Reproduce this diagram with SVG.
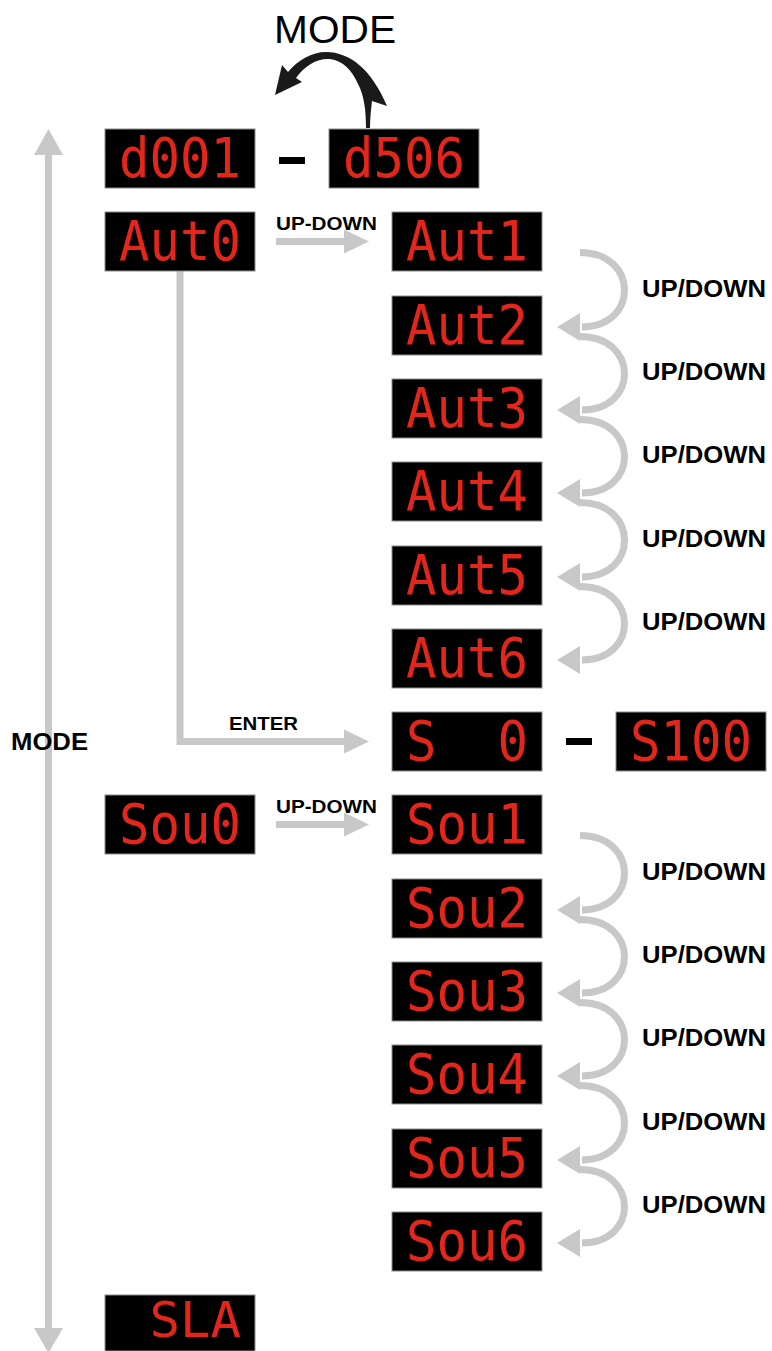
<svg xmlns="http://www.w3.org/2000/svg" width="772" height="1351" viewBox="0 0 772 1351">
<style>
.box{fill:#000;stroke:#8c8c8c;stroke-width:1}
.seg{font-family:"DejaVu Sans Mono","Liberation Mono",monospace;font-size:55px;fill:#e3261b}
.lbl{font-family:"Liberation Sans",Arial,sans-serif;font-weight:bold;fill:#000}
.gl{fill:none;stroke:#c8c8c8;stroke-width:7}
.gh{fill:#c8c8c8}
</style>
<rect width="772" height="1351" fill="#fff"/>

<g id="connectors">
  <!-- MODE vertical double arrow -->
  <line class="gl" x1="48.5" y1="152" x2="48.5" y2="1330"/>
  <polygon class="gh" points="48.5,129 34,155 63,155"/>
  <polygon class="gh" points="48.5,1353 34,1328 63,1328"/>
  <!-- UP-DOWN Aut -->
  <line class="gl" x1="276" y1="241.5" x2="346" y2="241.5"/>
  <polygon class="gh" points="369,241.5 344,229.5 344,253.5"/>
  <!-- UP-DOWN Sou -->
  <line class="gl" x1="276" y1="824.5" x2="346" y2="824.5"/>
  <polygon class="gh" points="369,824.5 344,812.5 344,836.5"/>
  <!-- ENTER -->
  <path class="gl" d="M180,271 V741.5 H346"/>
  <polygon class="gh" points="369,741.5 344,729.5 344,753.5"/>
  <!-- UP/DOWN arcs Aut -->
  <path class="gl" d="M580,252.5 C639,252.5 639,327 582,327"/>
  <polygon class="gh" points="557,327 580,313 580,341"/>
  <path class="gl" d="M580,336.5 C639,336.5 639,410 582,410"/>
  <polygon class="gh" points="557,410 580,396 580,424"/>
  <path class="gl" d="M580,419.5 C639,419.5 639,493 582,493"/>
  <polygon class="gh" points="557,493 580,479 580,507"/>
  <path class="gl" d="M580,502.5 C639,502.5 639,577 582,577"/>
  <polygon class="gh" points="557,577 580,563 580,591"/>
  <path class="gl" d="M580,586.5 C639,586.5 639,660 582,660"/>
  <polygon class="gh" points="557,660 580,646 580,674"/>
  <!-- UP/DOWN arcs Sou -->
  <path class="gl" d="M580,835.5 C639,835.5 639,910 582,910"/>
  <polygon class="gh" points="557,910 580,896 580,924"/>
  <path class="gl" d="M580,919.5 C639,919.5 639,993 582,993"/>
  <polygon class="gh" points="557,993 580,979 580,1007"/>
  <path class="gl" d="M580,1002.5 C639,1002.5 639,1076 582,1076"/>
  <polygon class="gh" points="557,1076 580,1062 580,1090"/>
  <path class="gl" d="M580,1085.5 C639,1085.5 639,1160 582,1160"/>
  <polygon class="gh" points="557,1160 580,1146 580,1174"/>
  <path class="gl" d="M580,1169.5 C639,1169.5 639,1243 582,1243"/>
  <polygon class="gh" points="557,1243 580,1229 580,1257"/>
  <!-- black MODE curved arrow -->
  <path fill="#1a1a1a" d="M366,128 C366,110 364,95 358,84 C352,70 343,61 330,59 C318,58 305,65 296,78 L302,82 L275,95 L282,65 L288,72 C298,60 312,52 326,52 C350,52 372,70 387,106 L372,101 C371,110 370,118 370,128 Z"/>
  <!-- dashes -->
  <rect x="279" y="157" width="26" height="7" fill="#000"/>
  <rect x="566" y="738" width="26" height="7" fill="#000"/>
</g>

<g id="labels">
  <text class="lbl" x="274" y="43" font-size="39" style="font-weight:normal" textLength="122" lengthAdjust="spacingAndGlyphs">MODE</text>
  <text class="lbl" x="11" y="750" font-size="23" textLength="77" lengthAdjust="spacingAndGlyphs">MODE</text>
  <text class="lbl" x="276" y="230" font-size="18" textLength="101" lengthAdjust="spacingAndGlyphs">UP-DOWN</text>
  <text class="lbl" x="276" y="813" font-size="18" textLength="101" lengthAdjust="spacingAndGlyphs">UP-DOWN</text>
  <text class="lbl" x="229" y="730" font-size="18" textLength="69" lengthAdjust="spacingAndGlyphs">ENTER</text>
  <text class="lbl" x="642" y="297" font-size="23" textLength="124" lengthAdjust="spacingAndGlyphs">UP/DOWN</text>
  <text class="lbl" x="642" y="380" font-size="23" textLength="124" lengthAdjust="spacingAndGlyphs">UP/DOWN</text>
  <text class="lbl" x="642" y="463" font-size="23" textLength="124" lengthAdjust="spacingAndGlyphs">UP/DOWN</text>
  <text class="lbl" x="642" y="547" font-size="23" textLength="124" lengthAdjust="spacingAndGlyphs">UP/DOWN</text>
  <text class="lbl" x="642" y="630" font-size="23" textLength="124" lengthAdjust="spacingAndGlyphs">UP/DOWN</text>
  <text class="lbl" x="642" y="880" font-size="23" textLength="124" lengthAdjust="spacingAndGlyphs">UP/DOWN</text>
  <text class="lbl" x="642" y="963" font-size="23" textLength="124" lengthAdjust="spacingAndGlyphs">UP/DOWN</text>
  <text class="lbl" x="642" y="1046" font-size="23" textLength="124" lengthAdjust="spacingAndGlyphs">UP/DOWN</text>
  <text class="lbl" x="642" y="1130" font-size="23" textLength="124" lengthAdjust="spacingAndGlyphs">UP/DOWN</text>
  <text class="lbl" x="642" y="1213" font-size="23" textLength="124" lengthAdjust="spacingAndGlyphs">UP/DOWN</text>
</g>

<g id="d001"><rect class="box" x="105" y="129" width="150" height="59"/><text class="seg" x="119" y="177" textLength="122" lengthAdjust="spacingAndGlyphs">d001</text></g>
<g id="d506"><rect class="box" x="329" y="129" width="150" height="59"/><text class="seg" x="343" y="177" textLength="122" lengthAdjust="spacingAndGlyphs">d506</text></g>
<g id="Aut0"><rect class="box" x="105" y="212" width="150" height="59"/><text class="seg" x="119" y="260" textLength="122" lengthAdjust="spacingAndGlyphs">Aut0</text></g>
<g id="Aut1"><rect class="box" x="392" y="212" width="150" height="59"/><text class="seg" x="406" y="260" textLength="122" lengthAdjust="spacingAndGlyphs">Aut1</text></g>
<g id="Aut2"><rect class="box" x="392" y="296" width="150" height="59"/><text class="seg" x="406" y="344" textLength="122" lengthAdjust="spacingAndGlyphs">Aut2</text></g>
<g id="Aut3"><rect class="box" x="392" y="379" width="150" height="59"/><text class="seg" x="406" y="427" textLength="122" lengthAdjust="spacingAndGlyphs">Aut3</text></g>
<g id="Aut4"><rect class="box" x="392" y="462" width="150" height="59"/><text class="seg" x="406" y="510" textLength="122" lengthAdjust="spacingAndGlyphs">Aut4</text></g>
<g id="Aut5"><rect class="box" x="392" y="546" width="150" height="59"/><text class="seg" x="406" y="594" textLength="122" lengthAdjust="spacingAndGlyphs">Aut5</text></g>
<g id="Aut6"><rect class="box" x="392" y="629" width="150" height="59"/><text class="seg" x="406" y="677" textLength="122" lengthAdjust="spacingAndGlyphs">Aut6</text></g>
<g id="S0"><rect class="box" x="392" y="712" width="150" height="59"/><text class="seg" x="406" y="760" xml:space="preserve" textLength="122" lengthAdjust="spacingAndGlyphs">S  0</text></g>
<g id="S100"><rect class="box" x="616" y="712" width="150" height="59"/><text class="seg" x="630" y="760" textLength="122" lengthAdjust="spacingAndGlyphs">S100</text></g>
<g id="Sou0"><rect class="box" x="105" y="795" width="150" height="59"/><text class="seg" x="119" y="843" textLength="122" lengthAdjust="spacingAndGlyphs">Sou0</text></g>
<g id="Sou1"><rect class="box" x="392" y="795" width="150" height="59"/><text class="seg" x="406" y="843" textLength="122" lengthAdjust="spacingAndGlyphs">Sou1</text></g>
<g id="Sou2"><rect class="box" x="392" y="879" width="150" height="59"/><text class="seg" x="406" y="927" textLength="122" lengthAdjust="spacingAndGlyphs">Sou2</text></g>
<g id="Sou3"><rect class="box" x="392" y="962" width="150" height="59"/><text class="seg" x="406" y="1010" textLength="122" lengthAdjust="spacingAndGlyphs">Sou3</text></g>
<g id="Sou4"><rect class="box" x="392" y="1045" width="150" height="59"/><text class="seg" x="406" y="1093" textLength="122" lengthAdjust="spacingAndGlyphs">Sou4</text></g>
<g id="Sou5"><rect class="box" x="392" y="1129" width="150" height="59"/><text class="seg" x="406" y="1177" textLength="122" lengthAdjust="spacingAndGlyphs">Sou5</text></g>
<g id="Sou6"><rect class="box" x="392" y="1212" width="150" height="59"/><text class="seg" x="406" y="1260" textLength="122" lengthAdjust="spacingAndGlyphs">Sou6</text></g>
<g id="SLA"><rect class="box" x="105" y="1295" width="150" height="56"/><text class="seg" x="119" y="1337" font-size="50" style="font-size:50px" xml:space="preserve" textLength="122" lengthAdjust="spacingAndGlyphs"> SLA</text></g>
</svg>
